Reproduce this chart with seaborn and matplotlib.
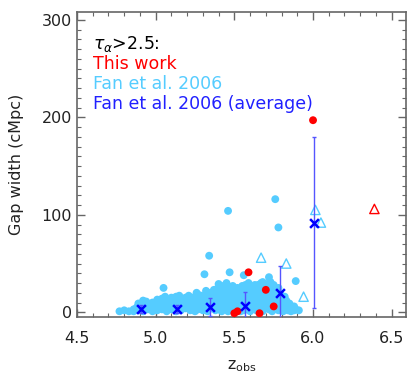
import matplotlib
matplotlib.use("Agg")
import matplotlib.pyplot as plt
import seaborn as sns
import pandas as pd
from matplotlib.ticker import MultipleLocator

# ---------------- data ----------------
# This work (tau > 2.5), filled red circles
this_z = [6.00, 5.59, 5.70, 5.75, 5.52, 5.50, 5.66]
this_w = [197, 41, 23, 6, 1, -1, -1]
# This work, open red triangle
this_tri_z = [6.39]
this_tri_w = [106]

# Fan et al. 2006, open cyan triangles
fan_tri_z = [6.015, 6.05, 5.67, 5.83, 5.94]
fan_tri_w = [105, 92, 56, 50, 16]

# Fan et al. 2006 averages
avg_z = [4.906, 5.133, 5.345, 5.567, 5.787, 6.005]
avg_w = [3, 3, 5.5, 6.5, 20, 92]
avg_err = [4, 4, 9, 14, 27, 87.5]

# Fan et al. 2006 individual gaps (filled cyan circles), by redshift column
fan_cols_a = {
    4.77: [1], 4.80: [2], 4.83: [1], 4.86: [3, 1], 4.89: [9, 2],
    4.92: [12, 5, 1], 4.95: [8, 3], 4.98: [10, 4, 1], 5.01: [13, 6, 2],
    5.04: [14, 8, 3], 5.05: [25], 5.07: [12, 5, 1], 5.10: [15, 9, 3],
    5.13: [16, 10, 4, 1], 5.16: [13, 7, 2], 5.19: [15, 9, 4],
    5.22: [12, 6, 2], 5.25: [16, 10, 5, 1], 5.27: [18, 11, 3],
    5.30: [15, 8, 2], 5.31: [39], 5.33: [19, 12, 6, 1], 5.34: [58],
    5.36: [17, 10, 4], 5.38: [20, 13, 7, 2], 5.40: [29, 18, 9, 3],
    5.42: [21, 14, 6, 1], 5.44: [22, 16, 10, 4], 5.45: [30],
    5.46: [104, 19, 12, 5, 1], 5.47: [41], 5.48: [23, 15, 8, 2],
    5.50: [21, 11, 4], 5.52: [25, 17, 9, 3], 5.54: [20, 12, 6, 1],
    5.56: [38, 24, 14, 7, 2], 5.58: [22, 16, 9, 3],
    5.60: [26, 18, 11, 4, 1], 5.62: [21, 13, 6], 5.63: [28],
    5.64: [23, 15, 8, 2], 5.66: [26, 19, 10, 4],
    5.68: [31, 22, 14, 6, 1], 5.70: [20, 12, 5],
    5.72: [36, 30, 17, 9, 3], 5.74: [22, 13, 6, 1],
    5.76: [116, 18, 11, 4], 5.78: [87, 25, 15, 8, 2], 5.80: [12, 5],
    5.82: [16, 9, 3], 5.84: [7, 2], 5.86: [4, 1], 5.89: [32, 3], 5.91: [2],
}
fan_cols_b = {
    4.88: [5], 4.94: [11, 6], 5.00: [9, 3], 5.03: [11], 5.06: [16, 9],
    5.09: [12, 6], 5.12: [13, 7], 5.15: [17, 10, 3], 5.18: [11, 5],
    5.21: [17, 14], 5.24: [12, 7], 5.26: [20], 5.29: [17, 12, 5],
    5.32: [22, 15, 9], 5.35: [20, 14, 8], 5.37: [23, 15], 5.39: [24, 10],
    5.41: [26, 16, 11], 5.43: [27, 19, 8], 5.47: [26, 18, 7],
    5.49: [27, 17, 10], 5.51: [24, 14, 6], 5.53: [22, 15],
    5.55: [27, 18, 10], 5.57: [28, 20, 12], 5.59: [30, 19, 6],
    5.61: [24, 16, 8], 5.65: [28, 21, 13], 5.67: [30, 24, 16, 8],
    5.69: [27, 18], 5.71: [26, 15, 7], 5.73: [31, 25, 20],
    5.75: [28, 16, 9], 5.77: [22, 14], 5.79: [20, 10], 5.81: [14, 7, 1],
    5.83: [12, 5], 5.85: [9, 3], 5.88: [6, 2],
}
fan_z = [z for d in (fan_cols_a, fan_cols_b) for z, ws in d.items() for _ in ws]
fan_w = [w for d in (fan_cols_a, fan_cols_b) for ws in d.values() for w in ws]

x_ticks = [4.5, 5.0, 5.5, 6.0, 6.5]
y_ticks = [0, 100, 200, 300]

# ---------------- style ----------------
sns.set_style("ticks")
plt.rcParams["font.family"] = ["DejaVu Sans"]

RED = "#ff0000"
CYAN = "#55ccff"
BLUE = "#0000ff"
EBLUE = "#5555ff"
FRAME = "#666666"
TXT = "#222222"

fig = plt.figure(figsize=(4.15, 3.74), dpi=100)
ax = fig.add_axes([0.1855, 0.152, 0.7925, 0.816])

df_fan = pd.DataFrame({"z": fan_z, "w": fan_w})
sns.scatterplot(data=df_fan, x="z", y="w", ax=ax, color=CYAN, s=32,
                edgecolor="none", marker="o", zorder=2)

df_ft = pd.DataFrame({"z": fan_tri_z, "w": fan_tri_w})
sns.scatterplot(data=df_ft, x="z", y="w", ax=ax, marker="^", s=45,
                facecolor="none", edgecolor=CYAN, linewidth=1.0, zorder=3)

df_this = pd.DataFrame({"z": this_z, "w": this_w})
sns.scatterplot(data=df_this, x="z", y="w", ax=ax, color=RED, s=32,
                edgecolor="none", marker="o", zorder=4)

df_tt = pd.DataFrame({"z": this_tri_z, "w": this_tri_w})
sns.scatterplot(data=df_tt, x="z", y="w", ax=ax, marker="^", s=45,
                facecolor="none", edgecolor=RED, linewidth=1.0, zorder=4)

ax.errorbar(avg_z, avg_w, yerr=avg_err, fmt="none", ecolor=EBLUE,
            elinewidth=1.0, capsize=1.5, capthick=1.0, zorder=5)
df_avg = pd.DataFrame({"z": avg_z, "w": avg_w})
sns.scatterplot(data=df_avg, x="z", y="w", ax=ax, marker="x", s=40,
                color=BLUE, linewidth=1.8, zorder=6)

ax.set_xlim(4.5, 6.59)
ax.set_ylim(-5, 308)
ax.set_xticks(x_ticks)
ax.set_xticklabels([f"{t:.1f}" for t in x_ticks])
ax.set_yticks(y_ticks)
ax.set_yticklabels([str(t) for t in y_ticks])
ax.xaxis.set_minor_locator(MultipleLocator(0.1))
ax.yaxis.set_minor_locator(MultipleLocator(10))
ax.tick_params(which="both", direction="in", top=True, right=True,
               color=FRAME, labelsize=11.5, labelcolor=TXT)
ax.tick_params(which="major", length=6, width=1)
ax.tick_params(which="minor", length=3, width=0.8)
ax.tick_params(axis="x", pad=10)
for sp in ax.spines.values():
    sp.set_color(FRAME)
    sp.set_linewidth(1.2)

ax.set_xlabel(r"z$_{\mathregular{obs}}$", fontsize=11.5, labelpad=9, color=TXT)
ax.set_ylabel("Gap width (cMpc)", fontsize=11.5, labelpad=13, color=TXT)

tx = 0.05
fs = 12.5
ax.text(tx, 0.895, r"$\tau_{\alpha}$>2.5:", transform=ax.transAxes,
        fontsize=fs, color="black", va="center")
ax.text(tx, 0.830, "This work", transform=ax.transAxes,
        fontsize=fs, color=RED, va="center")
ax.text(tx, 0.764, "Fan et al. 2006", transform=ax.transAxes,
        fontsize=fs, color=CYAN, va="center")
ax.text(tx, 0.700, "Fan et al. 2006 (average)", transform=ax.transAxes,
        fontsize=fs, color="#2020ff", va="center")

fig.savefig("out.png", dpi=100)
